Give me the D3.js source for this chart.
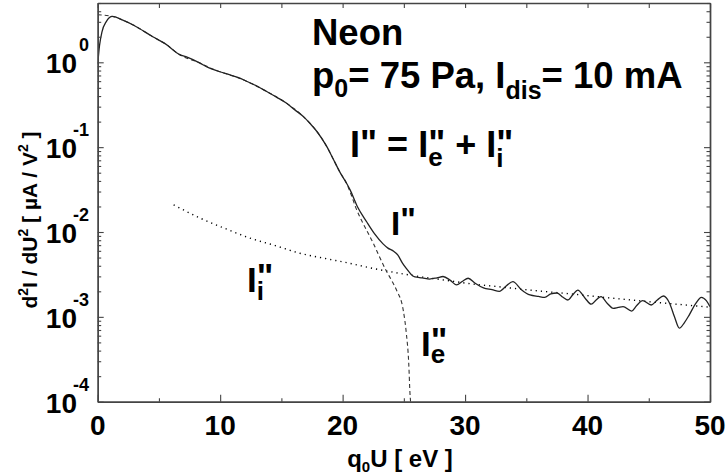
<!DOCTYPE html>
<html>
<head>
<meta charset="utf-8">
<script src="https://cdn.jsdelivr.net/npm/d3@7"></script>
<style>
  body { margin: 0; background: #fff; }
  svg { display: block; font-family: "Liberation Sans", Arial, Helvetica, sans-serif; }
</style>
</head>
<body>
<svg id="chart" width="728" height="476"></svg>
<script>
// total second derivative I''
const qU = [0, 0.15, 0.35, 0.7, 1.2, 2.0, 2.9, 4.5, 5.5, 6.7, 7.3, 8.35, 9.0, 9.8, 10.8,
  11.5, 12.2, 13.0, 13.8, 14.6, 15.4, 16.1, 16.8, 17.4, 17.9, 18.7, 19.2, 19.8, 20.3, 20.6,
  21.2, 21.96, 22.6, 23.3, 23.7, 24.1, 24.5, 24.9, 25.2, 25.6, 25.9, 26.5, 27.1, 27.7, 28.2,
  28.8, 29.3, 29.8, 30.25, 30.8, 31.5, 32.2, 32.8, 33.4, 33.9, 34.6, 35.3, 36.0, 36.5, 37.0,
  37.5, 38.0, 38.4, 38.8, 39.2, 39.8, 40.3, 40.7, 41.1, 41.6, 42.1, 42.5, 42.9, 43.6, 44.0,
  44.5, 45.2, 45.7, 46.2, 46.7, 47.1, 47.5, 47.9, 48.3, 48.8, 49.3, 49.7, 50];
const Itot = [0.95, 1.58, 2.29, 3.02, 3.47, 3.16, 2.75, 2.0, 1.66, 1.23, 1.15, 0.98, 0.87, 0.79, 0.71,
  0.66, 0.594, 0.525, 0.453, 0.389, 0.331, 0.275, 0.229, 0.186, 0.153, 0.102, 0.0741, 0.0501, 0.038, 0.0316,
  0.020, 0.0132, 0.00955, 0.00724, 0.00646, 0.00603, 0.00537, 0.00427, 0.00372, 0.00316, 0.00295, 0.00288, 0.00279, 0.00288, 0.00299,
  0.00269, 0.00238, 0.00263, 0.00285, 0.00251, 0.00219, 0.00209, 0.0020, 0.00234, 0.0026, 0.00209, 0.00181, 0.00174, 0.0017, 0.00186,
  0.00191, 0.0017, 0.00158, 0.00182, 0.00207, 0.00166, 0.00141, 0.00158, 0.00173, 0.00145, 0.00126, 0.00129, 0.00132, 0.00117, 0.00135,
  0.00155, 0.00138, 0.00158, 0.00176, 0.00145, 0.001, 0.000735, 0.000851, 0.00105, 0.00141, 0.0017, 0.00155, 0.00132];

// electron part I''e (dashed)
const qUe = [0, 1.2, 2.0, 2.9, 4.5, 5.5, 6.7, 8.35, 9.8, 10.8, 12.2, 13.8, 15.4, 16.8, 17.9,
  18.7, 19.2, 19.8, 20.3, 20.7, 21.1, 21.5, 22.0, 22.5, 23.0, 23.6, 24.0, 24.4, 24.95, 25.2,
  25.4, 25.5, 25.55];
const Ie = [3.63, 3.47, 3.16, 2.75, 2.0, 1.66, 1.23, 0.98, 0.79, 0.71, 0.594, 0.453, 0.331, 0.229, 0.153,
  0.102, 0.0741, 0.0501, 0.038, 0.0275, 0.019, 0.0141, 0.0102, 0.0074, 0.00513, 0.00341, 0.00269, 0.00207, 0.0012, 0.000646,
  0.000282, 0.000126, 0.0001];

// ion part I''i (dotted)
const qUi = [6.2, 8.4, 10.4, 12.4, 14.5, 16.5, 18.5, 20.6, 22.5, 24.4, 26.5, 28.5, 30.5, 32.8, 35,
  37.5, 39.5, 42, 45, 47.5, 50];
const Ii = [0.0209, 0.0145, 0.011, 0.00851, 0.00692, 0.00562, 0.0049, 0.00427, 0.00372, 0.00331, 0.00295, 0.00269, 0.00245, 0.00226, 0.00209,
  0.00193, 0.00181, 0.00166, 0.00151, 0.0014, 0.0013];

const xTicks = [0, 10, 20, 30, 40, 50];
const xMinor = [5, 15, 25, 35, 45];
const yDecades = [0, -1, -2, -3, -4];

const svg = d3.select("#chart");
const L = 97.7, R = 710, T = 3, B = 401.7;

const x = d3.scaleLinear().domain([0, 50]).range([L, R]);
const y = d3.scaleLog().domain([1e-4, 5]).range([B, T]);

const axisColor = "#444";

// clip
svg.append("clipPath").attr("id", "plotclip")
  .append("rect").attr("x", L).attr("y", T).attr("width", R - L).attr("height", B - T);

const plot = svg.append("g").attr("clip-path", "url(#plotclip)");

function lineOf(xs, ys) {
  return d3.line()
    .x((d, i) => x(xs[i]))
    .y((d, i) => y(ys[i]))
    .curve(d3.curveMonotoneX)(ys);
}

plot.append("path").attr("d", lineOf(qUi, Ii))
  .attr("fill", "none").attr("stroke", "#000").attr("stroke-width", 1.4)
  .attr("stroke-dasharray", "1.2,4").attr("stroke-linecap", "butt");

plot.append("path").attr("d", lineOf(qUe, Ie))
  .attr("fill", "none").attr("stroke", "#333").attr("stroke-width", 1.1)
  .attr("stroke-dasharray", "4,3");

plot.append("path").attr("d", lineOf(qU, Itot))
  .attr("fill", "none").attr("stroke", "#222").attr("stroke-width", 1.3);

// axes with inward ticks
const yMinorVals = y.ticks().filter(v => Math.abs(Math.log10(v) - Math.round(Math.log10(v))) > 1e-6);
const yMajorVals = yDecades.map(d => Math.pow(10, d));

function axisG(tx, ty) {
  return svg.append("g").attr("transform", `translate(${tx},${ty})`)
    .attr("color", axisColor);
}

axisG(L, 0).call(d3.axisLeft(y).tickValues(yMajorVals).tickSize(-6).tickSizeOuter(0).tickFormat(""));
axisG(L, 0).call(d3.axisLeft(y).tickValues(yMinorVals).tickSize(-3.5).tickSizeOuter(0).tickFormat(""));
axisG(R, 0).call(d3.axisRight(y).tickValues(yMajorVals).tickSize(-6).tickSizeOuter(0).tickFormat(""));
axisG(R, 0).call(d3.axisRight(y).tickValues(yMinorVals).tickSize(-3.5).tickSizeOuter(0).tickFormat(""));
axisG(0, B).call(d3.axisBottom(x).tickValues(xTicks).tickSize(-7).tickSizeOuter(0).tickFormat(""));
axisG(0, B).call(d3.axisBottom(x).tickValues(xMinor).tickSize(-3.5).tickSizeOuter(0).tickFormat(""));
axisG(0, T).call(d3.axisTop(x).tickValues(xTicks.concat(xMinor)).tickSize(-5).tickSizeOuter(0).tickFormat(""));

svg.selectAll(".domain").attr("stroke-width", 1.4);
svg.selectAll(".tick line").attr("stroke-width", 1.1);

// y tick labels 10^n
const ylab = svg.append("g").attr("font-weight", "bold").attr("fill", "#000");
ylab.selectAll("text.ten").data(yDecades).join("text")
  .attr("class", "ten")
  .attr("x", 77).attr("y", d => y(Math.pow(10, d)) + 11)
  .attr("text-anchor", "end").attr("font-size", 28)
  .text("10");
ylab.selectAll("text.exp").data(yDecades).join("text")
  .attr("class", "exp")
  .attr("x", 89).attr("y", d => y(Math.pow(10, d)) - 11)
  .attr("text-anchor", "end").attr("font-size", 18)
  .text(d => String(d));

// x tick labels
svg.append("g").selectAll("text").data(xTicks).join("text")
  .attr("x", d => x(d)).attr("y", 435)
  .attr("text-anchor", "middle").attr("font-size", 28).attr("font-weight", "bold")
  .text(d => d);

// rich text helper: segments {t, size, off (baseline offset), stack (back up over previous)}
function rich(g, x0, y0, size, segs, anchor) {
  const t = g.append("text").attr("x", x0).attr("y", y0)
    .attr("font-size", size).attr("font-weight", "bold");
  if (anchor) t.attr("text-anchor", anchor);
  let cur = 0, prevW = 0;
  segs.forEach(s => {
    const off = s.off || 0;
    const sp = t.append("tspan").attr("dy", off - cur).text(s.t)
      .attr("font-size", s.size || size);
    if (s.stack) sp.attr("dx", -prevW);
    cur = off;
    prevW = sp.node().getComputedTextLength();
  });
  if (cur !== 0) t.append("tspan").attr("dy", -cur).text("");
  return t;
}

// axis titles
rich(svg, 400, 467, 24, [
  { t: "q" }, { t: "0", size: 15, off: 5 }, { t: "U  [ eV ]" }
], "middle");

rich(svg, 0, 0, 21, [
  { t: "d" }, { t: "2", size: 14, off: -9 }, { t: "I / dU" }, { t: "2", size: 14, off: -9 },
  { t: " [ µA / V" }, { t: "2", size: 14, off: -9 }, { t: " ]" }
], "middle").attr("transform", "translate(37,220) rotate(-90)");

// annotation text
const ann = svg.append("g").attr("fill", "#000");
rich(ann, 312, 45, 36.5, [{ t: "Neon" }]);
rich(ann, 312, 88, 36.5, [
  { t: "p" }, { t: "0", size: 25, off: 9 }, { t: "= 75 Pa, I" }, { t: "dis", size: 25, off: 11 },
  { t: "= 10 mA" }
]);
rich(ann, 350, 157, 36, [
  { t: "I" }, { t: "\"", off: -1 }, { t: " = " }, { t: "I" }, { t: "e", size: 26, off: 9 },
  { t: "\"", off: -1, stack: true }, { t: " + " }, { t: "I" }, { t: "i", size: 26, off: 10 },
  { t: "\"", off: -1, stack: true }
]);

// curve labels
rich(ann, 391, 235, 33, [{ t: "I" }, { t: "\"", off: -4 }]);
rich(ann, 421, 356, 35, [{ t: "I" }, { t: "e", size: 26, off: 7 }, { t: "\"", off: -4, stack: true }]);
rich(ann, 247, 292, 35, [{ t: "I" }, { t: "i", size: 26, off: 8 }, { t: "\"", off: -4, stack: true }]);
</script>
</body>
</html>
